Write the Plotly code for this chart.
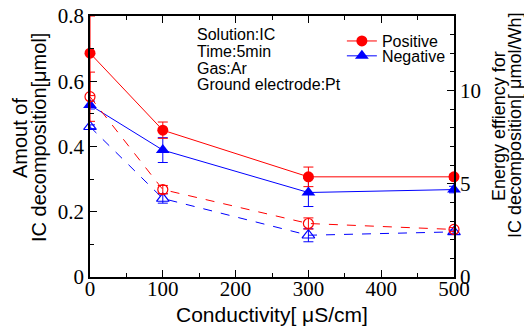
import plotly.graph_objects as go

conductivity = [0, 100, 300, 500]
pos_amount = [0.686, 0.450, 0.307, 0.307]
pos_amount_err_plus = [0.114, 0.025, 0.03, 0.008]
pos_amount_err_minus = [0.13, 0.025, 0.03, 0.008]
neg_amount = [0.527, 0.389, 0.259, 0.268]
neg_amount_err = [0.012, 0.038, 0.043, 0.01]
pos_eff = [9.67, 4.69, 2.87, 2.55]
pos_eff_err = [1.32, 0.22, 0.3, 0.1]
neg_eff = [8.06, 4.21, 2.24, 2.42]
neg_eff_err = [0.1, 0.25, 0.35, 0.1]
info_lines = ["Solution:IC", "Time:5min", "Gas:Ar", "Ground electrode:Pt"]
info_y = [0.742, 0.691, 0.640, 0.589]
left_title = ["Amout of", "IC decomposition[μmol]"]
right_title = ["Energy effiency for", "IC decomposition[ μmol/Wh]"]
x_title = "Conductivity[ μS/cm]"

RED = "#ff0000"
BLUE = "#0000ff"
SANS = "Liberation Sans"
SERIF = "Liberation Serif"

# plot area in pixels (for placing the outer titles)
PL, PR, PT, PB = 90, 454, 16, 277
PW, PH = PR - PL, PB - PT

fig = go.Figure()

# energy efficiency (right axis), open markers, dashed
fig.add_trace(go.Scatter(x=conductivity, y=neg_eff, yaxis="y2", mode="lines+markers",
    line=dict(color=BLUE, width=1, dash="dash"),
    marker=dict(symbol="triangle-up-open", size=11, color=BLUE, line=dict(width=1.2)),
    error_y=dict(type="data", array=neg_eff_err, color=BLUE, thickness=1, width=5),
    showlegend=False, cliponaxis=False))
fig.add_trace(go.Scatter(x=conductivity, y=pos_eff, yaxis="y2", mode="lines+markers",
    line=dict(color=RED, width=1, dash="dash"),
    marker=dict(symbol="circle-open", size=10, color=RED, line=dict(width=1.2)),
    error_y=dict(type="data", array=pos_eff_err, color=RED, thickness=1, width=5),
    showlegend=False, cliponaxis=False))

# amount (left axis) error bars, clipped to the plot
fig.add_trace(go.Scatter(x=conductivity, y=neg_amount, mode="markers",
    marker=dict(size=1, opacity=0),
    error_y=dict(type="data", array=neg_amount_err, color=BLUE, thickness=1, width=5),
    showlegend=False, cliponaxis=True, hoverinfo="skip"))
fig.add_trace(go.Scatter(x=conductivity, y=pos_amount, mode="markers",
    marker=dict(size=1, opacity=0),
    error_y=dict(type="data", symmetric=False, array=pos_amount_err_plus,
                 arrayminus=pos_amount_err_minus, color=RED, thickness=1, width=5),
    showlegend=False, cliponaxis=True, hoverinfo="skip"))

fig.add_trace(go.Scatter(x=conductivity, y=neg_amount, mode="lines+markers", name="Negative",
    line=dict(color=BLUE, width=1),
    marker=dict(symbol="triangle-up", size=12, color=BLUE),
    cliponaxis=False, legend="legend2"))
fig.add_trace(go.Scatter(x=conductivity, y=pos_amount, mode="lines+markers", name="Positive",
    line=dict(color=RED, width=1),
    marker=dict(symbol="circle", size=11, color=RED),
    cliponaxis=False, legend="legend"))

for txt, yy in zip(info_lines, info_y):
    fig.add_annotation(x=144, y=yy, xref="x", yref="y", text=txt, showarrow=False,
                       xanchor="left", yanchor="middle",
                       font=dict(family=SANS, size=16, color="black"))

# axis titles
for txt, xp in zip(left_title, [20, 39]):
    fig.add_annotation(x=(xp - PL) / PW, y=(PB - 138) / PH, xref="paper", yref="paper",
                       text=txt, showarrow=False, textangle=-90,
                       xanchor="center", yanchor="middle",
                       font=dict(family=SANS, size=20, color="black"))
for txt, xp in zip(right_title, [499, 515]):
    fig.add_annotation(x=(xp - PL) / PW, y=(PB - 126) / PH, xref="paper", yref="paper",
                       text=txt, showarrow=False, textangle=-90,
                       xanchor="center", yanchor="middle",
                       font=dict(family=SANS, size=18, color="black"))
fig.add_annotation(x=0.5, y=(PB - 314) / PH, xref="paper", yref="paper", text=x_title,
                   showarrow=False, xanchor="center", yanchor="middle",
                   font=dict(family=SANS, size=21, color="black"))

axis_common = dict(showline=True, linecolor="black", linewidth=1.5, ticks="inside",
                   tickcolor="black", ticklen=7, tickwidth=1, showgrid=False, zeroline=False,
                   automargin=False,
                   tickfont=dict(family=SERIF, size=21, color="black"))

legend_common = dict(xanchor="left", yanchor="middle", bgcolor="rgba(0,0,0,0)",
                     font=dict(family=SANS, size=16, color="black"), itemwidth=30)

fig.update_layout(
    width=524, height=326,
    margin=dict(l=PL, r=524 - PR, t=PT, b=326 - PB),
    paper_bgcolor="white", plot_bgcolor="white",
    xaxis=dict(range=[0, 500], tickvals=[0, 100, 200, 300, 400, 500], mirror="ticks",
               ticklabelstandoff=-8,
               minor=dict(dtick=50, ticks="inside", ticklen=4, tickcolor="black"),
               **axis_common),
    yaxis=dict(range=[0, 0.8], tickvals=[0, 0.2, 0.4, 0.6, 0.8],
               ticktext=["0", "0.2", "0.4", "0.6", "0.8"],
               minor=dict(dtick=0.1, ticks="inside", ticklen=4, tickcolor="black"),
               **axis_common),
    yaxis2=dict(range=[0, 14], overlaying="y", side="right", tickvals=[0, 5, 10],
                minor=dict(dtick=1, ticks="inside", ticklen=4, tickcolor="black"),
                **axis_common),
    legend=dict(x=0.692, y=0.904, **legend_common),
    legend2=dict(x=0.692, y=0.847, **legend_common),
    showlegend=True,
)

fig.write_html("out.html")
